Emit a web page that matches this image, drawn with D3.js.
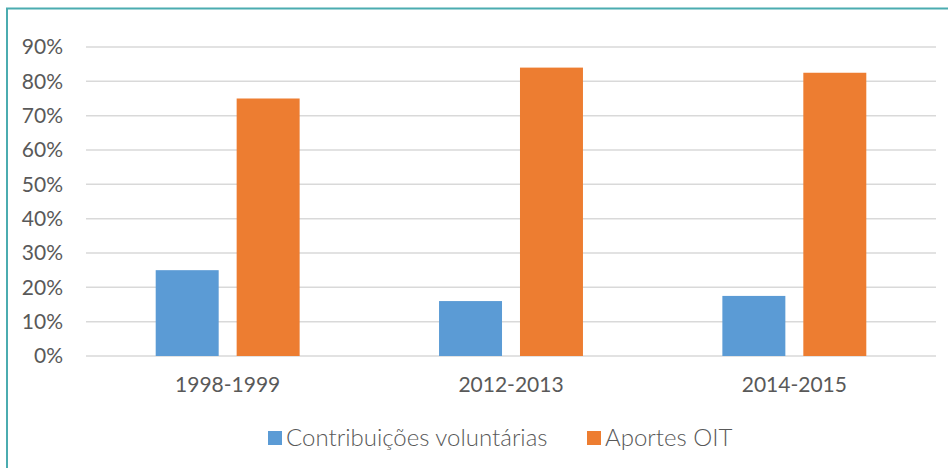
<!DOCTYPE html>
<html>
<head>
<meta charset="utf-8">
<script src="https://cdn.jsdelivr.net/npm/d3@7"></script>
<style>
  body { margin: 0; background: #fff; }
  svg { display: block; font-family: Lato, "Open Sans", sans-serif; }
</style>
</head>
<body>
<div id="chart"></div>
<script>
// Contribuições voluntárias vs Aportes OIT
const categories = ["1998-1999", "2012-2013", "2014-2015"];
const seriesNames = ["Contribuições voluntárias", "Aportes OIT"];
const voluntarias = [0.25, 0.16, 0.175];
const aportes = [0.75, 0.84, 0.825];
const yTicks = [0, 0.1, 0.2, 0.3, 0.4, 0.5, 0.6, 0.7, 0.8, 0.9];

const colors = ["#5b9bd5", "#ed7d31"];
const W = 948, H = 468;
const margin = { top: 47, right: 12, bottom: 112, left: 86 };
const width = W - margin.left - margin.right;
const height = H - margin.top - margin.bottom;

const data = categories.map((c, i) => ({ cat: c, values: [voluntarias[i], aportes[i]] }));

const svg = d3.select("#chart").append("svg")
    .attr("width", W)
    .attr("height", H);

// frame
svg.append("path")
    .attr("d", `M7,${H} V8.5 H${W}`)
    .attr("fill", "none")
    .attr("stroke", "#4bacb0")
    .attr("stroke-width", 2);

const g = svg.append("g").attr("transform", `translate(${margin.left},${margin.top})`);

const x0 = d3.scaleBand().domain(categories).range([0, width]);
const groupW = x0.bandwidth() * 0.508;
const x1 = d3.scaleBand().domain([0, 1]).range([0, groupW]).paddingInner(0.222);
const y = d3.scaleLinear().domain([0, 0.9]).range([height, 0]);

// gridlines
g.selectAll(".grid")
    .data(yTicks)
    .join("line")
    .attr("class", "grid")
    .attr("x1", 0)
    .attr("x2", width)
    .attr("y1", d => y(d))
    .attr("y2", d => y(d))
    .attr("stroke", "#d9d9d9")
    .attr("stroke-width", 1.5);

// y axis labels
const yAxis = g.append("g")
    .call(d3.axisLeft(y).tickValues(yTicks).tickFormat(d3.format(".0%")).tickSize(0).tickPadding(23));
yAxis.select(".domain").remove();
yAxis.selectAll("text")
    .attr("fill", "#595959")
    .style("font-size", "21px")
    .style("font-family", "Lato, sans-serif");

// bars
const groups = g.selectAll(".group")
    .data(data)
    .join("g")
    .attr("transform", d => `translate(${x0(d.cat) + (x0.bandwidth() - groupW) / 2},0)`);

groups.selectAll("rect")
    .data(d => d.values.map((v, i) => ({ i, v })))
    .join("rect")
    .attr("x", d => x1(d.i))
    .attr("width", x1.bandwidth())
    .attr("y", d => y(d.v))
    .attr("height", d => y(0) - y(d.v))
    .attr("fill", d => colors[d.i]);

// x axis labels
const xAxis = g.append("g")
    .attr("transform", `translate(0,${height})`)
    .call(d3.axisBottom(x0).tickSize(0).tickPadding(21));
xAxis.select(".domain").remove();
xAxis.selectAll("text")
    .attr("fill", "#595959")
    .style("font-size", "21px")
    .style("font-family", "Lato, sans-serif");

// legend
const legendItems = [{ name: seriesNames[0], x: 268 }, { name: seriesNames[1], x: 587 }];
const legend = svg.selectAll(".legend")
    .data(legendItems)
    .join("g")
    .attr("class", "legend")
    .attr("transform", d => `translate(${d.x},431)`);
legend.append("rect")
    .attr("width", 14)
    .attr("height", 14)
    .attr("fill", (d, i) => colors[i]);
legend.append("text")
    .attr("x", 18)
    .attr("y", 15)
    .attr("fill", "#595959")
    .style("font-size", "24px")
    .style("font-weight", 300)
    .text(d => d.name);
</script>
</body>
</html>
